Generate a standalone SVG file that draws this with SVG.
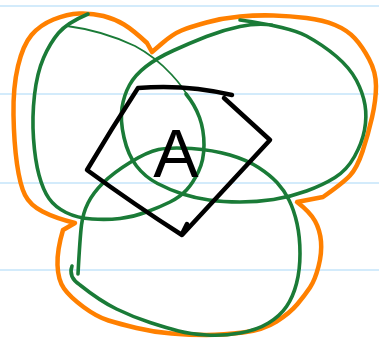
<svg xmlns="http://www.w3.org/2000/svg" width="379" height="341" viewBox="0 0 379 341">
<style>
.rule{stroke:#d3ebfb;stroke-width:2;fill:none}
.orange{stroke:#ff8000;stroke-width:4.5;fill:none;stroke-linecap:round;stroke-linejoin:round}
.green{stroke:#1a7b37;stroke-width:3.6;fill:none;stroke-linecap:round;stroke-linejoin:round}
.thin{stroke:#1a7b37;stroke-width:1.8;fill:none;stroke-linecap:round}
.ink{stroke:#000;stroke-width:4.5;fill:none;stroke-linecap:round;stroke-linejoin:round}
.lbl{font-family:"Liberation Sans",Arial,sans-serif;font-size:68px;fill:#000}
</style>
<rect width="379" height="341" fill="#fff"/>
<g id="ruled-lines">
<line class="rule" x1="0" y1="6" x2="379" y2="6"/>
<line class="rule" x1="0" y1="94" x2="379" y2="94"/>
<line class="rule" x1="0" y1="183" x2="379" y2="183"/>
<line class="rule" x1="0" y1="270" x2="379" y2="270"/>
</g>
<g id="outline">
<path class="orange" d="M152,52 L147,43 Q133,30 124,24.5 Q115,19 103.5,16 Q92,13 79.5,13.5 Q67,14 53.5,19.5 Q40,25 31.5,35 Q23,45 18,66 Q13,87 13.5,115 Q14,143 17,164 Q20,185 25,195 Q30,205 42.5,211.5 Q55,218 75,223 L63,230 Q57,250 57.5,265 Q58,280 64,288.5 Q70,297 83.5,307 Q97,317 108.5,320.5 Q120,324 136.5,328 Q153,332 171.5,333.5 Q190,335 206.5,335 Q223,335 243,332.5 Q263,330 276.5,321.5 Q290,313 297.5,304 Q305,295 310,287.5 Q315,280 318.5,266.5 Q322,253 321,241.5 Q320,230 315,221 Q310,212 297,202 L323,197 Q343,183 350,175.5 Q357,168 362.5,151.5 Q368,135 372,117.5 Q376,100 376,86 Q376,72 369,59 Q362,46 354.5,38 Q347,30 335,25 Q323,20 306.5,18 Q290,16 273.5,15.5 Q257,15 240,16.5 Q223,18 206.5,22.5 Q190,27 181.5,30.5 Q173,34 162.5,43 Z"/>
</g>
<g id="circles">
<path class="green" d="M240,20 Q290,27 306.5,36 Q323,45 336.5,56.5 Q350,68 356.5,80.5 Q363,93 365,105 Q367,117 364.5,130 Q362,143 354.5,156.5 Q347,170 335,177.5 Q323,185 306.5,191 Q290,197 273.5,199.5 Q257,202 240,202 Q223,202 209,200 Q195,198 182.5,194 Q170,190 157.5,183.5 Q145,177 136.5,166 Q128,155 124,137.5 Q120,120 122,107.5 Q124,95 129.5,85 Q135,75 146,66.5 Q157,58 173.5,50.5 Q190,43 206.5,36.5 Q223,30 240,26.5 Q257,23 272,25"/>
<path class="green" d="M88,14 Q67,23 58.5,33 Q50,43 43.5,58 Q37,73 34.5,95 Q32,117 33.5,138.5 Q35,160 39,175 Q43,190 49,198.5 Q55,207 66,212.5 Q77,218 92,219 Q107,220 120,218.5 Q133,217 146.5,212 Q160,207 170,202 Q180,197 186.5,190 Q193,183 198.5,171.5 Q204,160 204,145 Q204,130 199.5,117.5 Q195,105 186,94"/>
<path class="thin" d="M190,100 C184,88 165,62 135,46 C112,35 90,29 67,26"/>
<path class="green" d="M72,266 Q68,277 80,285 Q100,301 116.5,309 Q133,317 150,322.5 Q167,328 178.5,331 Q190,334 206.5,335 Q223,336 240,333 Q257,330 268.5,323 Q280,316 286.5,306.5 Q293,297 296.5,283.5 Q300,270 300,253.5 Q300,237 297,223.5 Q294,210 289,200 Q284,190 277,182.5 Q270,175 258.5,167.5 Q247,160 230,155 Q213,150 191.5,148.5 Q170,147 158.5,149.5 Q147,152 130,162.5 Q113,173 103,183 Q93,193 88,203 Q83,213 81.5,225 Q80,237 78,274"/>
</g>
<g id="diamond">
<path class="ink" d="M232,95 Q186,84 138,88 Q112,128 87,170 Q135,205 182,235 L270,140 L224,98"/>
<path class="ink" d="M187,224 L182,234"/>
</g>
<g id="label">
<text class="lbl" x="176" y="177" text-anchor="middle">A</text>
</g>
</svg>
